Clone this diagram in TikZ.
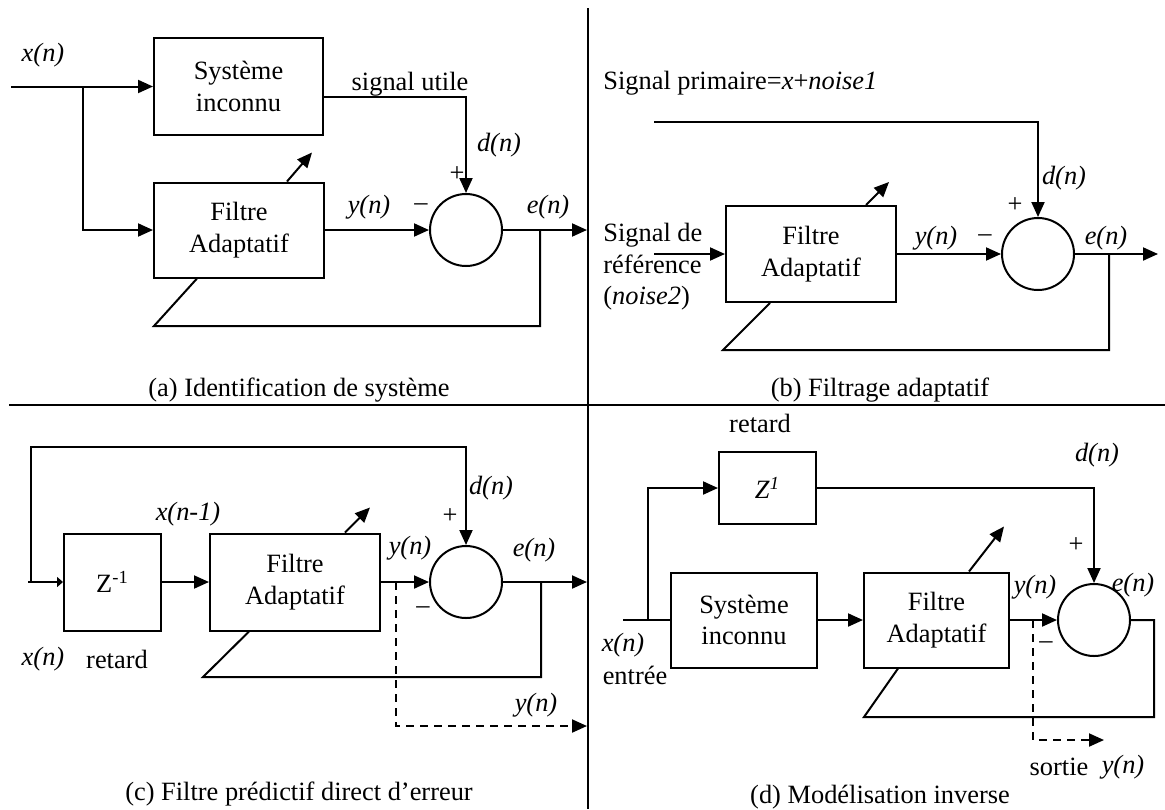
\documentclass[tikz,border=0pt]{standalone}
\usepackage{fontspec}
\setmainfont{Liberation Serif}
\usetikzlibrary{arrows.meta,positioning,calc}

\begin{document}
\begin{tikzpicture}[x=0.5pt, y=-0.5pt,
  every node/.style={font=\fontsize{13.2}{15.8}\selectfont},
  blk/.style={draw, line width=1pt, align=center, inner sep=0pt},
  sum/.style={draw, circle, line width=1pt, minimum size=36pt, inner sep=0pt},
  arr/.style={-{Triangle[length=7.5pt, width=6.5pt]}, line width=1pt},
  wire/.style={line width=1pt},
  sig/.style={font=\fontsize{13.2}{15.8}\selectfont\itshape},
  dsh/.style={dash pattern=on 4pt off 3pt},
  sep/.style={line width=1.3pt}
]
  \useasboundingbox (0,0) rectangle (1165,809);

  % (a) identification de systeme
  \node[blk, minimum width=84.5pt, minimum height=48.5pt] (sysA) at (238.5,86.5) {Système\\inconnu};
  \node[blk, minimum width=85pt, minimum height=47.5pt] (filA) at (239,230) {Filtre\\Adaptatif};
  \node[sum] (sumA) at (466,230) {};
  \coordinate (inA) at (11,86.5);
  \coordinate (brA) at (83,86.5);
  \coordinate (dA) at (466,97);
  \coordinate (fbA) at (540,230);
  \coordinate (lowA) at (154,326);
  \coordinate (outA) at (587,230);
  \draw[arr] (inA) -- (sysA.west);
  \draw[arr] (brA) |- (filA.west);
  \draw[arr] (sysA.east |- dA) -- (dA) -- (sumA);
  \draw[arr] (filA) -- (sumA);
  \draw[arr] (sumA) -- (outA);
  \draw[wire] (fbA) |- (lowA) -- ([xshift=22pt]filA.south west);
  \draw[arr] ([xshift=67pt]filA.north west) -- ++(25,-29);
  \node[sig] (xA) at (43,55) {x(n)};
  \node (suA) at (410,84) {signal utile};
  \node[sig] (dnA) at (499,145) {d(n)};
  \node (plA) at (457,174) {+};
  \node[sig] (ynA) at (369,207) {y(n)};
  \node (mnA) at (421,207) {--};
  \node[sig] (enA) at (548,207) {e(n)};
  \node (capA) at (299,390) {(a) Identification de système};

  % (b) filtrage adaptatif
  \node[anchor=west, inner sep=0pt] (priB) at (603,83) {Signal primaire=\textit{x}+\textit{noise1}};
  \node[blk, minimum width=85pt, minimum height=48pt] (filB) at (811,254) {Filtre\\Adaptatif};
  \node[sum] (sumB) at (1038,254) {};
  \node[anchor=west, align=left, inner sep=0pt] (refB) at (603,267) {Signal de\\référence\\(\textit{noise2})};
  \coordinate (pB) at (654,122);
  \coordinate (dB) at (1038,122);
  \coordinate (inB) at (654,254);
  \coordinate (fbB) at (1109,254);
  \coordinate (lowB) at (723,350);
  \coordinate (outB) at (1158,254);
  \draw[arr] (pB) -- (dB) -- (sumB);
  \draw[arr] (inB) -- (filB.west);
  \draw[arr] (filB) -- (sumB);
  \draw[arr] (sumB) -- (outB);
  \draw[wire] (fbB) |- (lowB) -- ([xshift=22.5pt]filB.south west);
  \draw[arr] ([xshift=70.5pt]filB.north west) -- ++(23,-23);
  \node[sig] (dnB) at (1064,178) {d(n)};
  \node (plB) at (1015,205) {+};
  \node[sig] (ynB) at (936,238) {y(n)};
  \node (mnB) at (985,238) {--};
  \node[sig] (enB) at (1106,238) {e(n)};
  \node (capB) at (880,390) {(b) Filtrage adaptatif};

  % (c) filtre predictif
  \node[blk, minimum width=48.5pt, minimum height=48.5pt] (zC) at (112.5,582) {Z\textsuperscript{-1}};
  \node[blk, minimum width=85pt, minimum height=48.5pt] (filC) at (295,582) {Filtre\\Adaptatif};
  \node[sum] (sumC) at (466,582) {};
  \coordinate (inC) at (28,582);
  \coordinate (brC) at (31,582);
  \coordinate (topC) at (466,447);
  \coordinate (fbC) at (541,582);
  \coordinate (lowC) at (203,677);
  \coordinate (outC) at (587,582);
  \coordinate (dsC) at (396,582);
  \coordinate (yoC) at (587,726);
  \draw[-{Triangle[length=3pt, width=5pt]}, line width=1pt] (inC) -- (zC.west);
  \draw[arr] (brC) |- (topC) -- (sumC);
  \draw[arr] (zC) -- (filC);
  \draw[arr] (filC) -- (sumC);
  \draw[arr] (sumC) -- (outC);
  \draw[wire] (fbC) |- (lowC) -- ([xshift=20pt]filC.south west);
  \draw[arr] ([xshift=68pt]filC.north west) -- ++(25,-25);
  \draw[arr, dsh] (dsC) |- (yoC);
  \node[sig] (xnC) at (188,514) {x(n-1)};
  \node[sig] (ynC) at (410,548) {y(n)};
  \node[sig] (dnC) at (491,488) {d(n)};
  \node (plC) at (450,516) {+};
  \node (mnC) at (423,610) {--};
  \node[sig] (enC) at (534,550) {e(n)};
  \node[sig] (youtC) at (536,705) {y(n)};
  \node[sig] (xC) at (43,659) {x(n)};
  \node (retC) at (117,659) {retard};
  \node (capC) at (299,794) {(c) Filtre prédictif direct d’erreur};

  % (d) modelisation inverse
  \node[blk, minimum width=48.5pt, minimum height=36pt] (zD) at (767.5,488) {\textit{Z}\textsuperscript{\textit{1}}};
  \node[blk, minimum width=73pt, minimum height=47.5pt] (sysD) at (744,620) {Système\\inconnu};
  \node[blk, minimum width=72.5pt, minimum height=47.5pt] (filD) at (936.5,620) {Filtre\\Adaptatif};
  \node[sum] (sumD) at (1094,620) {};
  \coordinate (inD) at (623,620);
  \coordinate (brD) at (648,620);
  \coordinate (dD) at (1094,488);
  \coordinate (eD) at (1154,620);
  \coordinate (lowD) at (864,717);
  \coordinate (dsD) at (1033,620);
  \coordinate (yoD) at (1104,740);
  \draw[wire] (inD) -- (sysD.west);
  \draw[arr] (brD) |- (zD.west);
  \draw[arr] (zD.east) -- (dD) -- (sumD);
  \draw[arr] (sysD) -- (filD);
  \draw[arr] (filD) -- (sumD);
  \draw[wire] (sumD) -- (eD) |- (lowD) -- ([xshift=17.5pt]filD.south west);
  \draw[arr] ([xshift=53pt]filD.north west) -- ++(35,-45);
  \draw[arr, dsh] (dsD) |- (yoD);
  \node (retD) at (760,423) {retard};
  \node[sig] (dnD) at (1097,455) {d(n)};
  \node (plD) at (1076,545) {+};
  \node[sig] (ynD) at (1035,587) {y(n)};
  \node[sig] (enD) at (1133,585) {e(n)};
  \node (mnD) at (1046,645) {--};
  \node[sig] (xD) at (623,645) {x(n)};
  \node (entD) at (635,675) {entrée};
  \node (sorD) at (1059,767) {sortie};
  \node[sig] (youtD) at (1123,767) {y(n)};
  \node (capD) at (880,797) {(d) Modélisation inverse};

  % separateurs
  \draw[sep] (588,8) -- (588,809);
  \draw[sep] (9,405) -- (1165,405);
\end{tikzpicture}
\end{document}
